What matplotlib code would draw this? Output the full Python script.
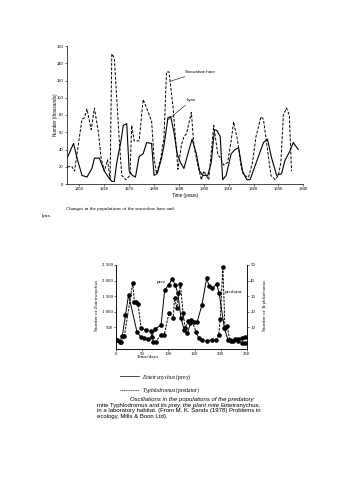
import numpy as np
import matplotlib
import matplotlib.pyplot as plt
from matplotlib.lines import Line2D

plt.rcParams['mathtext.fontset'] = 'custom'
plt.rcParams['mathtext.it'] = 'Liberation Serif:italic'
plt.rcParams['mathtext.rm'] = 'Liberation Serif'

# snowshoe hare / lynx (thousands)
hare_years = [1845, 1847, 1848, 1849, 1851, 1852, 1853, 1854.7, 1856, 1857.6,
              1858.7, 1860, 1861.3, 1862.3, 1863, 1864, 1866, 1867, 1868.7, 1870.3,
              1871, 1872, 1874, 1875.6, 1877, 1879, 1880, 1881, 1882.7, 1884,
              1885, 1886, 1887.6, 1889.6, 1891, 1892, 1893, 1895, 1896, 1897.6,
              1899, 1900, 1902, 1904, 1905.6, 1907, 1908, 1909.6, 1911, 1912,
              1913.6, 1915, 1916, 1918, 1919.6, 1921, 1923, 1924, 1925.6, 1927,
              1928.7, 1930, 1931, 1932, 1933.3, 1934.4, 1935.3]
hare = [20, 20, 15, 35, 75, 77, 87, 63, 88, 60,
        30, 15, 28, 5, 151, 146, 51, 10, 5, 10,
        68, 50, 50, 98, 88, 73, 30, 12, 30, 55,
        130, 130, 90, 17, 45, 55, 58, 83, 45, 22,
        5, 15, 5, 68, 35, 28, 22, 25, 50, 72,
        50, 20, 10, 8, 25, 55, 78, 75, 40, 10,
        5, 10, 25, 80, 88, 80, 15]
lynx_years = [1845, 1847.6, 1849, 1851, 1853, 1855, 1856, 1858, 1860, 1861.6,
              1863, 1864, 1865, 1866.7, 1867.6, 1869, 1870, 1871.3, 1872.5, 1874,
              1875.6, 1877, 1879, 1880, 1881.3, 1883, 1884, 1885.6, 1886.7, 1888,
              1889.3, 1890.6, 1892, 1893.6, 1895.3, 1897, 1898.3, 1899.6, 1901.6, 1903,
              1904.3, 1905.3, 1906.6, 1907.6, 1909, 1911, 1912.6, 1914, 1915.6, 1917.3,
              1918.6, 1920.5, 1923, 1924, 1925.6, 1927.3, 1929.3, 1931.3, 1932.6, 1934.6,
              1936, 1938]
lynx = [30, 47, 30, 10, 8, 18, 30, 30, 15, 8,
        3, 3, 25, 50, 68, 70, 15, 10, 8, 32,
        35, 48, 47, 10, 12, 30, 45, 77, 78, 60,
        35, 25, 18, 35, 52, 35, 15, 10, 10, 25,
        63, 62, 55, 5, 10, 35, 40, 42, 15, 5,
        5, 20, 40, 48, 52, 30, 10, 12, 27, 38,
        48, 40]

# mites
prey_days = [2, 7, 12, 18, 24, 40, 47, 54, 62, 68,
             75, 86, 93, 101, 107, 113, 118, 124, 130, 136,
             142, 148, 155, 164, 173, 178, 184, 192, 197, 207,
             214, 220, 227, 233, 240, 246]
prey = [80, 30, 210, 880, 1540, 355, 195, 140, 110, 200,
        450, 570, 1700, 1860, 2060, 1860, 1590, 800, 410, 300,
        620, 680, 680, 1210, 2070, 1820, 1750, 1890, 1590, 460,
        85, 60, 110, 130, 160, 190]
pred_days = [2, 10, 16, 32, 35, 39, 42, 48, 58, 66,
             70, 76, 85, 92, 101, 109, 112, 116, 123, 128,
             132, 138, 144, 153, 158, 165, 174, 183, 191, 196,
             199, 204, 208, 212, 217, 224, 232, 241, 247]
pred = [1.6, 0.6, 4.3, 38.6, 26.4, 26.4, 24.7, 9.3, 8.2, 7.7,
        0.6, 0.6, 5, 5, 19, 16, 28.6, 22.6, 37.8, 19,
        9.6, 14, 14.6, 7, 2.8, 1.8, 1.2, 2, 1.5, 5,
        15, 49, 9.5, 11, 2, 1, 1, 0, 0]

SANS = 'Liberation Sans'
SERIF = 'Liberation Serif'

fig = plt.figure(figsize=(3.53, 5.0), dpi=100)

# ---- top chart
ax1 = fig.add_axes([0.190, 0.632, 0.669, 0.276])
ax1.plot(hare_years, hare, color='k', ls='--', lw=0.7, dashes=(3, 1.6))
ax1.plot(lynx_years, lynx, color='k', ls='-', lw=0.8)
ax1.set_xlim(1845, 1940)
ax1.set_ylim(0, 160)
ax1.set_xticks(range(1850, 1941, 10))
ax1.set_yticks(range(0, 161, 20))
for s in ['top', 'right']:
    ax1.spines[s].set_visible(False)
for s in ['left', 'bottom']:
    ax1.spines[s].set_linewidth(0.5)
ax1.tick_params(labelsize=3, length=1.5, width=0.4, pad=1)
for lab in ax1.get_xticklabels() + ax1.get_yticklabels():
    lab.set_family(SANS)
ax1.set_xlabel('Time (years)', fontsize=3.3, family=SANS, labelpad=1)
fig.text(55 / 353, 1 - 115 / 500, 'Number (thousands)', fontsize=3.3, family=SANS,
         rotation=90, ha='center', va='center')
ax1.annotate('Snowshoe hare', xy=(1886.4, 119), xytext=(1892.3, 130),
             fontsize=3.2, family=SANS, va='center',
             arrowprops=dict(arrowstyle='-', lw=0.4, color='k', shrinkA=0, shrinkB=0))
ax1.annotate('Lynx', xy=(1885.4, 74), xytext=(1893.1, 97),
             fontsize=3.2, family=SANS, va='center',
             arrowprops=dict(arrowstyle='-', lw=0.4, color='k', shrinkA=0, shrinkB=0))

fig.text(66 / 353, 1 - 209 / 500, 'Changes in the populations of the snowshoe hare and',
         fontsize=3.6, family=SERIF, va='center')
fig.text(42 / 353, 1 - 216 / 500, 'lynx.', fontsize=3.6, family=SERIF, va='center')

# ---- bottom chart
ax2 = fig.add_axes([0.3286, 0.302, 0.371, 0.168])
ax2.plot(prey_days, prey, color='k', ls='-', lw=0.7, marker='o', ms=2.3)
ax2.set_xlim(0, 250)
ax2.set_ylim(-200, 2500)
ax2.set_xticks(range(0, 251, 50))
ax2.set_yticks([500, 1000, 1500, 2000, 2500])
ax2.set_yticklabels(['500', '1 000', '1 500', '2 000', '2 500'])
ax3 = ax2.twinx()
ax3.plot(pred_days, pred, color='k', ls='--', lw=0.7, dashes=(2.5, 1.2), marker='o', ms=2.3)
ax3.set_ylim(-4, 50)
ax3.set_yticks([10, 20, 30, 40, 50])
for a in (ax2, ax3):
    a.spines['top'].set_visible(False)
    for s in ['left', 'right', 'bottom']:
        a.spines[s].set_linewidth(0.5)
    a.tick_params(labelsize=3.5, length=1.5, width=0.4, pad=1)
    for lab in a.get_xticklabels() + a.get_yticklabels():
        lab.set_family(SERIF)

fig.text(148 / 353, 1 - 357 / 500, 'Time/days', fontsize=3.8, family=SERIF, ha='center', va='center')
fig.text(97 / 353, 1 - 305 / 500, r'Number of $\mathit{Eotetranychus}$', fontsize=3.6,
         family=SERIF, rotation=90, ha='center', va='center')
fig.text(265 / 353, 1 - 305 / 500, r'Number of $\mathit{Typhlodromus}$', fontsize=3.6,
         family=SERIF, rotation=90, ha='center', va='center')
fig.text(157 / 353, 1 - 282 / 500, 'prey', fontsize=3.8, family=SERIF, va='center')
fig.text(225 / 353, 1 - 292 / 500, 'predator', fontsize=3.8, family=SERIF, va='center')

# legend
handles = [Line2D([], [], color='k', lw=0.5, ls='-'),
           Line2D([], [], color='k', lw=0.5, ls='--', dashes=(1.5, 1))]
fig.legend(handles, [r'$\mathit{Eotetranychus}$ (prey)', r'$\mathit{Typhlodromus}$ (predator)'],
           loc='upper left', bbox_to_anchor=(120 / 353, 1 - 372 / 500), frameon=False,
           prop={'family': SERIF, 'size': 4.1}, handlelength=3.3, handletextpad=0.6,
           labelspacing=0.6, borderaxespad=0, borderpad=0)

# caption with mixed styles, pieces placed one after another
renderer = fig.canvas.get_renderer()
space = 1.7 / 353


def caption_line(x, y, pieces):
    for txt, st in pieces:
        t = fig.text(x, y, txt, style=st, fontsize=4.3, family=SANS, va='baseline')
        x += t.get_window_extent(renderer).width / fig.bbox.width + space


caption_line(130 / 353, 1 - 401 / 500, [('Oscillations in the populations of the predatory', 'italic')])
caption_line(97 / 353, 1 - 406.7 / 500, [('mite Typhlodromus', 'normal'),
                                         ('and its prey, the plant mite', 'italic'),
                                         ('Eotetranychus,', 'normal')])
caption_line(97 / 353, 1 - 412.3 / 500, [('in a laboratory habitat. (From M. K. Sands (1978) Problems in', 'normal')])
caption_line(97 / 353, 1 - 418 / 500, [('ecology, Mills & Boon Ltd).', 'normal')])

fig.savefig('out.png', dpi=100)
